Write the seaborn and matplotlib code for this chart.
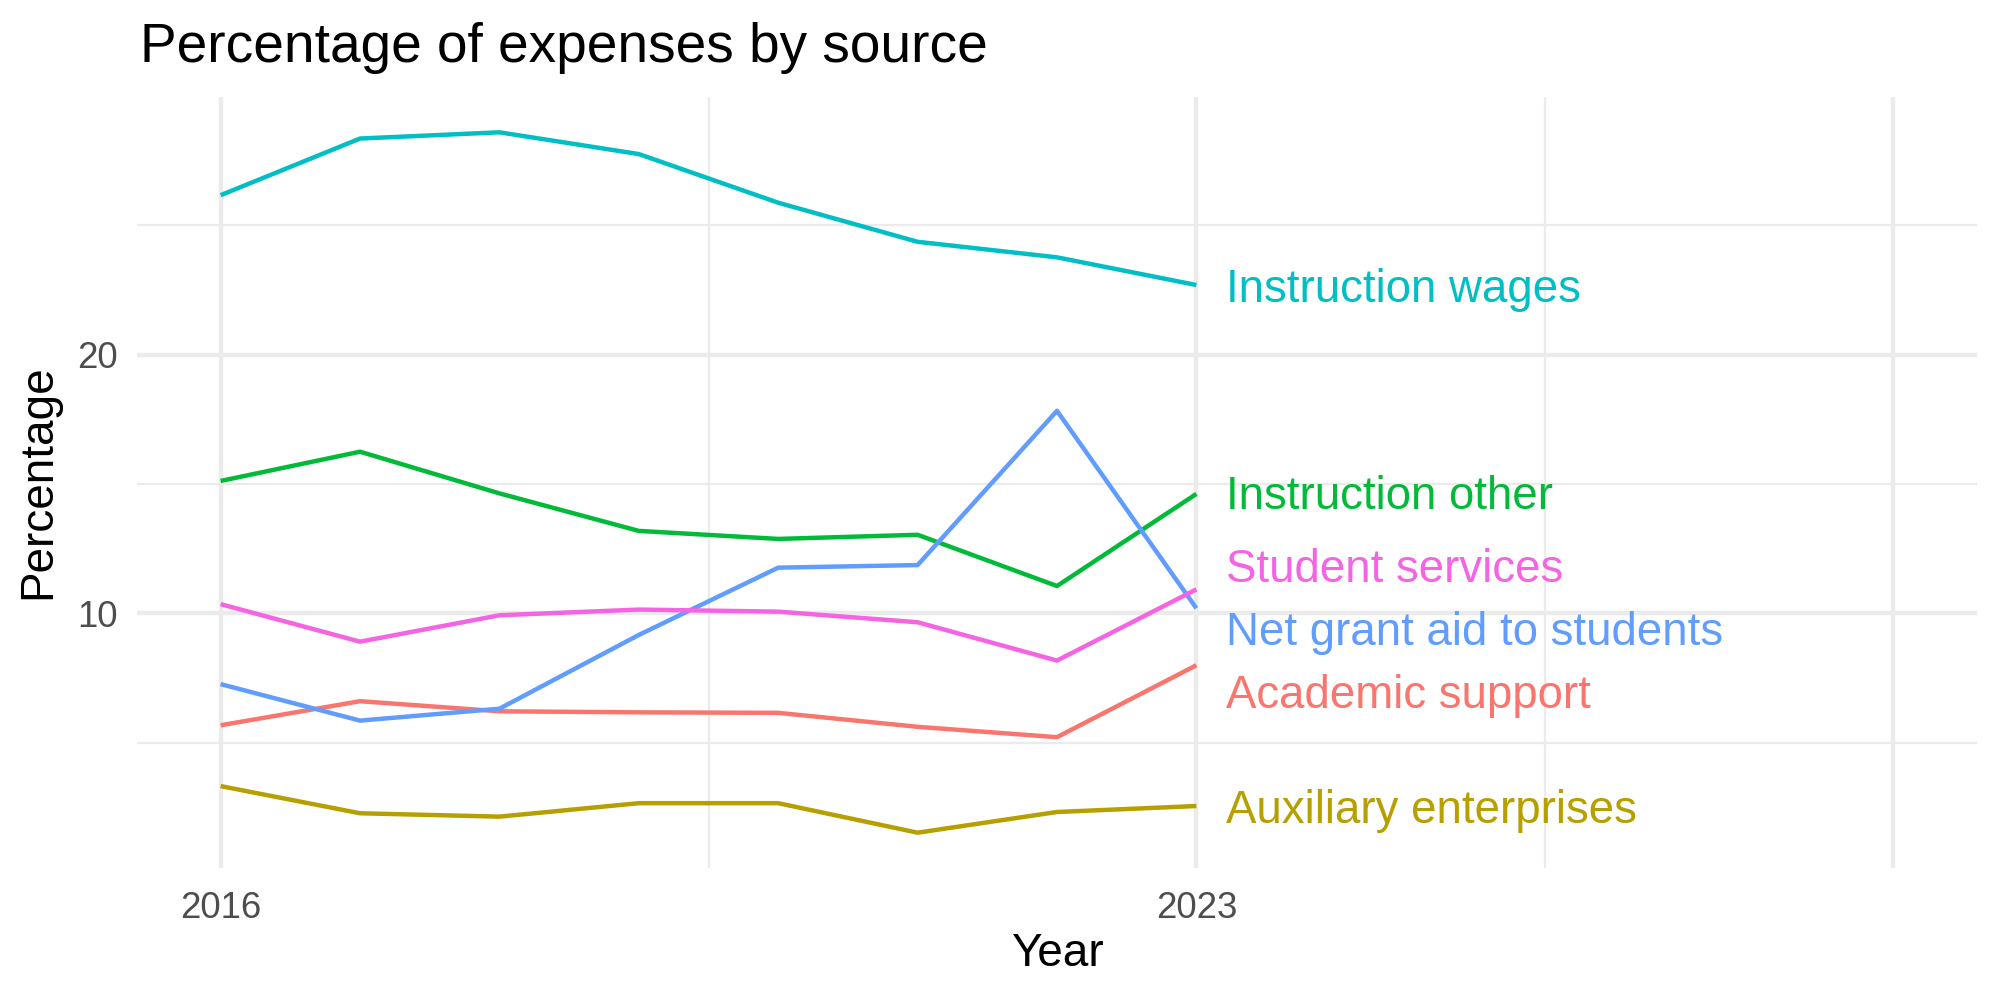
import matplotlib
matplotlib.use("Agg")
import matplotlib.pyplot as plt
import seaborn as sns
import pandas as pd
from matplotlib.ticker import FixedLocator

# ---------------- data ----------------
years = [2016, 2017, 2018, 2019, 2020, 2021, 2022, 2023]
academic_support = [5.68, 6.61, 6.22, 6.18, 6.16, 5.62, 5.22, 8.00]
auxiliary_enterprises = [3.33, 2.28, 2.15, 2.67, 2.67, 1.53, 2.33, 2.56]
instruction_other = [15.12, 16.25, 14.64, 13.19, 12.88, 13.04, 11.06, 14.62]
instruction_wages = [26.16, 28.35, 28.59, 27.75, 25.87, 24.36, 23.76, 22.69]
net_grant_aid = [7.27, 5.86, 6.32, 9.17, 11.77, 11.87, 17.83, 10.20]
student_services = [10.36, 8.91, 9.93, 10.15, 10.07, 9.66, 8.18, 10.93]

sources = ["Academic support", "Auxiliary enterprises", "Instruction other",
           "Instruction wages", "Net grant aid to students", "Student services"]
series = [academic_support, auxiliary_enterprises, instruction_other,
          instruction_wages, net_grant_aid, student_services]

title = "Percentage of expenses by source"
x_label = "Year"
y_label = "Percentage"
x_tick_values = [2016, 2023, 2028]
x_tick_labels = ["2016", "2023", ""]
y_tick_values = [10, 20]
y_tick_labels = ["10", "20"]

# ---------------- style ----------------
colors = ["#F8766D", "#B79F00", "#00BA38", "#00BFC4", "#619CFF", "#F564E3"]
label_nudge = [-1.20, -0.18, -0.12, -0.18, -0.95, 0.74]  # repel-like offsets for end labels

rows = []
for s, vals in zip(sources, series):
    for y, v in zip(years, vals):
        rows.append({"Year": y, "Percentage": v, "Source": s})
df = pd.DataFrame(rows)

sns.set_theme(style="white")
plt.rcParams["font.family"] = ["Liberation Sans", "DejaVu Sans"]

W, H = 2000, 1000
fig = plt.figure(figsize=(20, 10), dpi=100)
left, right, top, bottom = 137, 1977, 97.3, 867.7
ax = fig.add_axes([left / W, 1 - bottom / H, (right - left) / W, (bottom - top) / H])

palette = dict(zip(sources, colors))
sns.lineplot(data=df, x="Year", y="Percentage", hue="Source", palette=palette,
             linewidth=3.2, legend=False, ax=ax, sort=True, zorder=3)
for line in ax.get_lines():
    line.set_solid_capstyle("butt")
    line.set_solid_joinstyle("round")

# end labels
for s, vals, c, nd in zip(sources, series, colors, label_nudge):
    ax.text(years[-1] + 0.21, vals[-1] + nd, s, color=c, fontsize=32.9,
            ha="left", va="center", zorder=4)

ax.set_xlim(2015.4, 2028.6)
allv = [v for vals in series for v in vals]
rng = max(allv) - min(allv)
ax.set_ylim(min(allv) - 0.05 * rng, max(allv) + 0.05 * rng)

ax.xaxis.set_major_locator(FixedLocator(x_tick_values))
ax.set_xticklabels(x_tick_labels)
ax.xaxis.set_minor_locator(FixedLocator([2019.5, 2025.5]))
ax.yaxis.set_major_locator(FixedLocator(y_tick_values))
ax.set_yticklabels(y_tick_labels)
ax.yaxis.set_minor_locator(FixedLocator([5, 15, 25]))

ax.grid(which="major", color="#EBEBEB", linewidth=3.2, zorder=0)
ax.grid(which="minor", color="#EBEBEB", linewidth=1.6, zorder=0)
ax.set_axisbelow(True)
for sp in ax.spines.values():
    sp.set_visible(False)
ax.tick_params(axis="both", which="both", length=0, labelsize=26.4, labelcolor="#4D4D4D")
ax.tick_params(axis="x", pad=16.5)
ax.tick_params(axis="y", pad=14)
ax.set_xlabel("")
ax.set_ylabel("")

fig.text(1057 / W, 1 - 954 / H, x_label, fontsize=33, ha="center", va="center", color="black")
fig.text(38 / W, 1 - 482 / H, y_label, fontsize=33, ha="center", va="center",
         rotation=90, color="black")
fig.text(140 / W, 1 - 62 / H, title, fontsize=39.6, ha="left", va="baseline", color="black")

fig.savefig("out.png", dpi=100, facecolor="white")
